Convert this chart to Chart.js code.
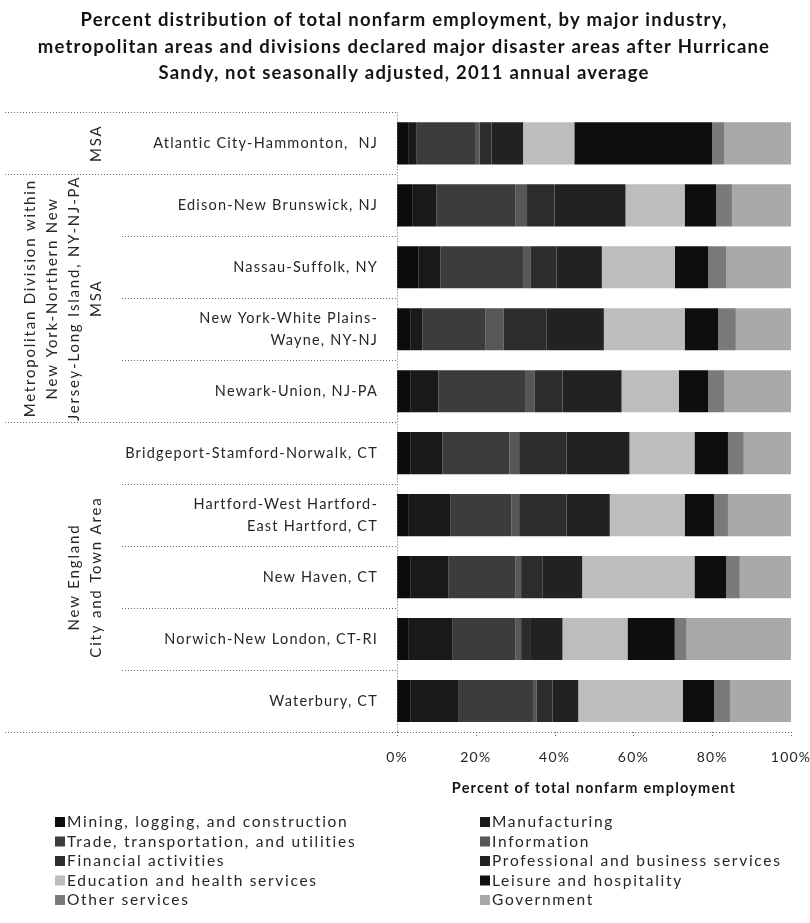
<!DOCTYPE html>
<html>
<head>
<meta charset="utf-8">
<script src="https://cdn.jsdelivr.net/npm/chart.js@4.4.1/dist/chart.umd.min.js"></script>
<style>
  html, body { margin: 0; padding: 0; background: #fff; }
  #wrap { width: 810px; height: 923px; }
</style>
</head>
<body>
<div id="wrap"><canvas id="chart" width="810" height="923"></canvas></div>
<script>
// Areas, top to bottom
const areas = [
  'Atlantic City-Hammonton,  NJ',
  'Edison-New Brunswick, NJ',
  'Nassau-Suffolk, NY',
  ['New York-White Plains-', 'Wayne, NY-NJ'],
  'Newark-Union, NJ-PA',
  'Bridgeport-Stamford-Norwalk, CT',
  ['Hartford-West Hartford-', 'East Hartford, CT'],
  'New Haven, CT',
  'Norwich-New London, CT-RI',
  'Waterbury, CT'
];

// Area groupings shown in the left column
const groupNames = [
  ['MSA'],
  ['Metropolitan Division within', 'New York-Northern New', 'Jersey-Long Island, NY-NJ-PA', 'MSA'],
  ['New England', 'City and Town Area']
];
const groupFirst = [0, 1, 5];
const groupLast = [0, 4, 9];

// Percent of total nonfarm employment by industry, 2011 annual average
const mining        = [3,   4,   5.5, 3.5,  3.5,  3.5,  3,    3.5,  3,    3.5];
const manufacturing = [2,   6,   5.5, 3,    7,    8,    10.5, 9.5,  11,   12];
const trade         = [15,  20,  21,  16,   22,   17,   15.5, 17,   16,   19];
const information   = [1,   3,   2,   4.5,  2.5,  2.5,  2,    1.5,  1.5,  1];
const financial     = [3,   7,   6.5, 11,   7,    12,   12,   5.5,  2.5,  4];
const professional  = [8,   18,  11.5, 14.5, 15,  16,   11,   10,   8,    6.5];
const education     = [13,  15,  18.5, 20.5, 14.5, 16.5, 19,  28.5, 16.5, 26.5];
const leisure       = [35,  8,   8.5, 8.5,  7.5,  8.5,  7.5,  8,    12,   8];
const otherServices = [3,   4,   4.5, 4.5,  4,    4,    3.5,  3.5,  3,    4];
const government    = [17,  15,  16.5, 14,  17,   12,   16,   13,   26.5, 15.5];

const industries = [
  'Mining, logging, and construction',
  'Manufacturing',
  'Trade, transportation, and utilities',
  'Information',
  'Financial activities',
  'Professional and business services',
  'Education and health services',
  'Leisure and hospitality',
  'Other services',
  'Government'
];
const industryValues = [mining, manufacturing, trade, information, financial,
  professional, education, leisure, otherServices, government];
const industryColors = ['#0c0c0c', '#191919', '#3c3c3c', '#575757', '#2c2c2c',
  '#222222', '#bdbdbd', '#0e0e0e', '#7a7a7a', '#a9a9a9'];

const xTicks = [0, 20, 40, 60, 80, 100];

const FONT = 'Lato, "Open Sans", sans-serif';
const TEXT = '#262626';

function dotted(ctx, x1, y1, x2, y2) {
  ctx.beginPath();
  ctx.moveTo(x1, y1);
  ctx.lineTo(x2, y2);
  ctx.stroke();
}

function setSpacing(ctx, v) {
  if ('letterSpacing' in ctx) ctx.letterSpacing = v;
}

// Slightly spaced lettering for the title, axis labels and axis title
// (scales and title are drawn before the bars)
const spacingPlugin = {
  id: 'spacing',
  beforeDraw(chart) { setSpacing(chart.ctx, '1.2px'); },
  beforeDatasetsDraw(chart) { setSpacing(chart.ctx, '0px'); }
};

// Table-style frame, group captions and the two-column key
const framePlugin = {
  id: 'frame',
  afterDraw(chart) {
    const {ctx, chartArea: a, scales: {x, y}} = chart;
    const rowY = i => y.getPixelForValue(i);
    const edge = i => i === 0 ? a.top : (i === areas.length ? a.bottom : (rowY(i - 1) + rowY(i)) / 2);
    const axisX = Math.round(a.left) + 0.5;

    ctx.save();
    ctx.strokeStyle = '#6a6a6a';
    ctx.lineWidth = 1;
    ctx.setLineDash([1, 2]);

    // horizontal separators
    for (let i = 0; i <= areas.length; i++) {
      const yy = Math.round(edge(i)) + 0.5;
      const isGroupEdge = i === 0 || i === areas.length || groupFirst.includes(i);
      const x0 = isGroupEdge ? 5 : 122;
      const x1 = i === areas.length ? a.right : axisX;
      dotted(ctx, x0, yy, x1, yy);
    }
    // vertical axis line
    dotted(ctx, axisX, a.top, axisX, a.bottom);
    // x tick marks
    xTicks.forEach(v => {
      const xx = Math.round(x.getPixelForValue(v)) + 0.5;
      dotted(ctx, xx, a.bottom, xx, a.bottom + 5);
    });
    ctx.setLineDash([]);

    // rotated group captions
    ctx.fillStyle = TEXT;
    ctx.font = '15px ' + FONT;
    ctx.textAlign = 'center';
    ctx.textBaseline = 'middle';
    setSpacing(ctx, '1.8px');
    groupNames.forEach((lines, g) => {
      const cy = (edge(groupFirst[g]) + edge(groupLast[g] + 1)) / 2;
      const lh = 22;
      const lastX = 96;
      lines.forEach((line, k) => {
        const cx = lastX - (lines.length - 1 - k) * lh;
        ctx.save();
        ctx.translate(cx, cy);
        ctx.rotate(-Math.PI / 2);
        ctx.fillText(line, 0, 0);
        ctx.restore();
      });
    });

    // key, two columns filled row by row
    ctx.font = '15.5px ' + FONT;
    ctx.textAlign = 'left';
    setSpacing(ctx, '1.7px');
    const colX = [55, 480];
    const rowTop = 822, rowStep = 19.5, box = 10;
    industries.forEach((name, i) => {
      const cx = colX[i % 2];
      const cy = rowTop + Math.floor(i / 2) * rowStep;
      ctx.fillStyle = industryColors[i];
      ctx.fillRect(cx, cy - box / 2, box, box);
      ctx.fillStyle = TEXT;
      ctx.fillText(name, cx + box + 2, cy);
    });
    setSpacing(ctx, '0px');
    ctx.restore();
  }
};

new Chart(document.getElementById('chart'), {
  type: 'bar',
  data: {
    labels: areas,
    datasets: industries.map((name, i) => ({
      label: name,
      data: industryValues[i],
      backgroundColor: industryColors[i],
      borderWidth: 0,
      barPercentage: 0.68,
      categoryPercentage: 1
    }))
  },
  options: {
    indexAxis: 'y',
    responsive: false,
    animation: false,
    devicePixelRatio: 1,
    layout: { padding: { top: 0, right: 2, bottom: 123, left: 0 } },
    plugins: {
      legend: { display: false },
      tooltip: { enabled: false },
      title: {
        display: true,
        text: [
          'Percent distribution of total nonfarm employment, by major industry,',
          'metropolitan areas and divisions declared major disaster areas after Hurricane',
          'Sandy, not seasonally adjusted, 2011 annual average'
        ],
        color: '#141414',
        font: { family: FONT, size: 18.5, weight: 'bold', lineHeight: 1.43 },
        padding: { top: 7, bottom: 26 }
      }
    },
    scales: {
      x: {
        stacked: true,
        min: 0,
        max: 100,
        afterBuildTicks(s) { s.ticks = xTicks.map(v => ({ value: v })); },
        ticks: {
          callback: v => v + '%',
          color: TEXT,
          font: { family: FONT, size: 14 },
          padding: 17,
          maxRotation: 0
        },
        grid: { display: false, drawTicks: false },
        border: { display: false },
        title: {
          display: true,
          text: 'Percent of total nonfarm employment',
          color: '#141414',
          font: { family: FONT, size: 14.5, weight: 'bold' },
          padding: { top: 4, bottom: 3 }
        },
        afterFit(s) {
          s.height = 68;
          s.paddingLeft = 0;
          s.paddingRight = 19;
        }
      },
      y: {
        stacked: true,
        ticks: {
          color: TEXT,
          font: { family: FONT, size: 14.5, lineHeight: 1.5 },
          padding: 19,
          autoSkip: false
        },
        grid: { display: false, drawTicks: false },
        border: { display: false },
        afterFit(s) { s.width = 397; }
      }
    }
  },
  plugins: [spacingPlugin, framePlugin]
});
</script>
</body>
</html>
